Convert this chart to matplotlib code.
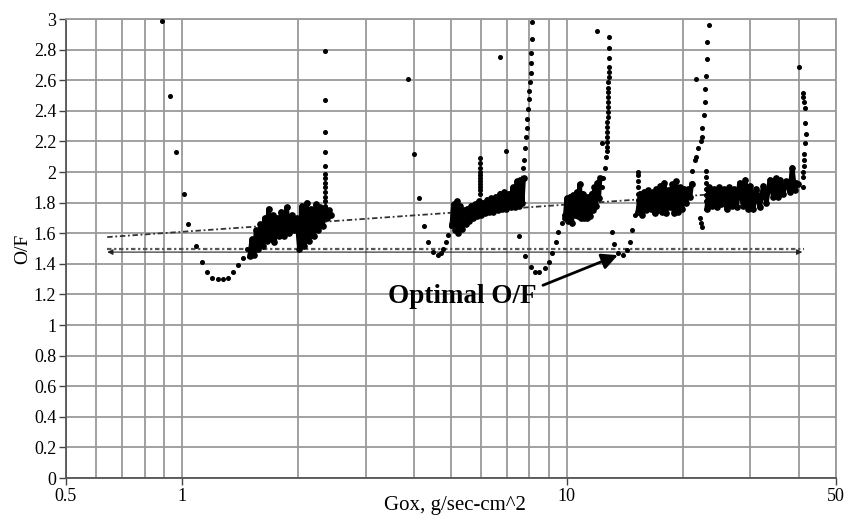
import numpy as np
import matplotlib
matplotlib.use("Agg")
import matplotlib.pyplot as plt
from matplotlib.ticker import FuncFormatter

plt.rcParams['font.family'] = ['Liberation Serif', 'DejaVu Serif']

# ---- data (Gox in g/sec-cm^2, O/F) ----

# isolated dots: start-up transients, troughs and stray points
dots_x = [0.89, 0.93, 0.965, 1.01, 1.04, 1.09, 1.13, 1.16, 1.20, 1.24, 1.28,
          1.32, 1.36, 1.40, 1.44, 1.48,
          3.87, 4.0, 4.13, 4.25, 4.36, 4.49, 4.63, 4.70, 4.77, 4.85, 4.91, 5.0,
          6.70, 6.95, 7.51,
          7.78, 8.07, 8.26, 8.47, 8.77, 8.98, 9.15, 9.37, 9.50, 9.70, 9.85,
          11.97, 12.33,
          13.1, 13.3, 13.6, 14.0, 14.3, 14.6, 14.76, 15.0,
          21.65, 22.2, 22.3, 22.4]
dots_y = [2.99, 2.50, 2.13, 1.86, 1.66, 1.52, 1.41, 1.35, 1.31, 1.30, 1.30,
          1.31, 1.35, 1.39, 1.44, 1.50,
          2.61, 2.12, 1.83, 1.65, 1.54, 1.48, 1.46, 1.47, 1.50, 1.54, 1.59, 1.65,
          2.75, 2.14, 1.58,
          1.45, 1.38, 1.35, 1.35, 1.37, 1.41, 1.47, 1.54, 1.61, 1.67, 1.72,
          2.92, 2.19,
          1.61, 1.53, 1.47, 1.46, 1.49, 1.54, 1.62, 1.72,
          2.61, 1.70, 1.67, 1.64]

# near-vertical runs of dots (O/F climbing at the end of each burn)
spike_x = [2.35] * 13 + [5.95] * 11 + \
          [7.69, 7.74, 7.78, 7.83, 7.88, 7.88, 7.92, 7.97, 7.97, 8.02, 8.07, 8.07,
           8.07, 8.12, 8.12] + \
          [12.33, 12.41, 12.56, 12.64, 12.70, 12.70, 12.70, 12.72, 12.72, 12.74,
           12.74, 12.76, 12.76, 12.78, 12.78, 12.80, 12.80, 12.82, 12.82, 12.84,
           12.84, 12.86, 12.86, 12.86, 12.86] + \
          [15.35] * 6 + \
          [21.1, 21.2, 21.5, 21.7, 21.9, 22.3, 22.4, 22.5, 22.7, 22.8, 22.9, 23.0,
           23.2, 23.2, 23.4] + \
          [22.98] * 6 + \
          [40.1, 41.0, 41.1, 41.3, 41.5, 41.5, 41.7, 41.6, 41.4, 41.4, 41.3, 41.2,
           41.0, 41.1]
spike_y = [1.78, 1.81, 1.84, 1.87, 1.90, 1.93, 1.96, 1.99, 2.04, 2.13, 2.26, 2.47, 2.79] + \
          [1.86, 1.88, 1.90, 1.92, 1.94, 1.96, 1.98, 2.00, 2.03, 2.06, 2.09] + \
          [2.03, 2.08, 2.16, 2.23, 2.29, 2.35, 2.41, 2.48, 2.53, 2.59, 2.65, 2.71,
           2.78, 2.87, 2.98] + \
          [1.90, 1.96, 2.03, 2.10, 2.14, 2.165, 2.198, 2.231, 2.264, 2.296, 2.329,
           2.362, 2.394, 2.427, 2.460, 2.492, 2.525, 2.553, 2.590, 2.623, 2.656,
           2.688, 2.743, 2.808, 2.880] + \
          [1.82, 1.86, 1.90, 1.94, 1.98, 2.00] + \
          [1.93, 2.01, 2.08, 2.10, 2.16, 2.20, 2.23, 2.29, 2.37, 2.46, 2.54, 2.63,
           2.74, 2.85, 2.96] + \
          [2.01, 1.97, 1.93, 1.89, 1.85, 1.81] + \
          [2.69, 2.52, 2.49, 2.46, 2.42, 2.32, 2.25, 2.19, 2.12, 2.08, 2.04, 2.00,
           1.97, 1.90]

# dense noisy bands during each burn
band1_x = [1.50, 1.52, 1.54, 1.56, 1.58, 1.60, 1.62, 1.64, 1.66, 1.68, 1.70, 1.72,
           1.74, 1.77, 1.79, 1.81, 1.84, 1.87, 1.90, 1.93, 1.96, 1.99, 2.02, 2.05,
           2.08, 2.11, 2.14, 2.17, 2.20, 2.23, 2.26, 2.29, 2.32, 2.35, 2.38, 2.41, 2.44]
band1_y = [1.45, 1.56, 1.46, 1.62, 1.50, 1.66, 1.52, 1.70, 1.55, 1.76, 1.56, 1.72,
           1.54, 1.70, 1.58, 1.74, 1.58, 1.77, 1.60, 1.72, 1.62, 1.70, 1.50, 1.78,
           1.52, 1.80, 1.55, 1.76, 1.58, 1.79, 1.62, 1.77, 1.65, 1.76, 1.70, 1.75, 1.72]

band2_x = [5.03, 5.08, 5.13, 5.18, 5.23, 5.28, 5.34, 5.40, 5.46, 5.52, 5.58, 5.64,
           5.70, 5.77, 5.84, 5.91, 5.98, 6.05, 6.13, 6.21, 6.29, 6.37, 6.45, 6.53,
           6.61, 6.70, 6.79, 6.88, 6.97, 7.06, 7.15, 7.24, 7.33, 7.42, 7.50, 7.58,
           7.66, 7.72]
band2_y = [1.66, 1.79, 1.62, 1.81, 1.60, 1.78, 1.63, 1.75, 1.66, 1.76, 1.68, 1.78,
           1.70, 1.79, 1.71, 1.81, 1.72, 1.80, 1.73, 1.82, 1.74, 1.83, 1.74, 1.84,
           1.75, 1.86, 1.76, 1.87, 1.76, 1.86, 1.77, 1.90, 1.77, 1.94, 1.78, 1.95,
           1.80, 1.96]

band3_x = [9.90, 10.0, 10.1, 10.2, 10.3, 10.4, 10.5, 10.6, 10.7, 10.8, 10.9, 11.0,
           11.1, 11.2, 11.3, 11.4, 11.5, 11.6, 11.7, 11.8, 11.9, 12.0, 12.1, 12.2]
band3_y = [1.70, 1.83, 1.68, 1.84, 1.67, 1.85, 1.72, 1.87, 1.71, 1.92, 1.70, 1.86,
           1.70, 1.84, 1.70, 1.84, 1.71, 1.86, 1.75, 1.90, 1.78, 1.93, 1.83, 1.96]

band4_x = [15.3, 15.5, 15.7, 15.9, 16.1, 16.3, 16.5, 16.7, 16.9, 17.1, 17.3, 17.5,
           17.7, 17.9, 18.1, 18.3, 18.5, 18.8, 19.0, 19.2, 19.4, 19.7, 19.9, 20.2,
           20.4, 20.7, 20.9, 21.1]
band4_y = [1.74, 1.86, 1.72, 1.87, 1.75, 1.88, 1.76, 1.87, 1.73, 1.89, 1.75, 1.91,
           1.74, 1.93, 1.73, 1.88, 1.77, 1.92, 1.73, 1.94, 1.74, 1.90, 1.76, 1.89,
           1.80, 1.89, 1.84, 1.92]

band5_x = [23.1, 23.4, 23.8, 24.1, 24.5, 24.9, 25.2, 25.6, 26.0, 26.4, 26.8, 27.2,
           27.6, 28.1, 28.7, 29.1, 29.6, 30.0, 30.5, 31.1, 31.7, 32.4, 33.0, 33.7,
           34.4, 34.9, 35.4, 35.9, 36.5, 37.2, 38.0, 38.5, 39.1, 39.5, 39.9]
band5_y = [1.76, 1.90, 1.78, 1.89, 1.77, 1.90, 1.79, 1.89, 1.76, 1.90, 1.78, 1.89,
           1.77, 1.93, 1.78, 1.95, 1.76, 1.91, 1.76, 1.89, 1.77, 1.91, 1.80, 1.95,
           1.84, 1.96, 1.84, 1.95, 1.86, 1.94, 1.87, 2.03, 1.88, 1.93, 1.92]

bands = [(band1_x, band1_y), (band2_x, band2_y), (band3_x, band3_y),
         (band4_x, band4_y), (band5_x, band5_y)]

# trend line and optimal O/F line
trend_x = [0.64, 40.0]
trend_y = [1.575, 1.895]
optimal_x = [0.64, 41.3]
optimal_y = [1.50, 1.50]
arrow_x = [0.64, 40.9]
arrow_y = 1.477

# ---- figure ----
fig = plt.figure(figsize=(8.46, 5.17), dpi=100)
ax = fig.add_axes([0.078, 0.0754, 0.910, 0.8876])

ax.set_xscale('log')
ax.set_xlim(0.5, 50)
ax.set_ylim(0, 3)

grid_c = '#9a9a9a'
ax.set_xticks([0.5, 1, 10, 50])
ax.set_xticklabels(['0.5', '1', '10', '50'])
minor = [0.6, 0.7, 0.8, 0.9, 2, 3, 4, 5, 6, 7, 8, 9, 20, 30, 40]
ax.set_xticks(minor, minor=True)
ax.xaxis.set_minor_formatter(FuncFormatter(lambda v, p: ''))
ax.set_yticks(np.arange(0, 3.01, 0.2))
ax.yaxis.set_major_formatter(FuncFormatter(lambda v, p: '%g' % round(v, 1)))
ax.grid(True, which='both', color=grid_c, lw=1.3)
ax.tick_params(axis='x', which='minor', length=0)
ax.tick_params(axis='both', which='major', length=5, width=1, color='#444444',
               labelsize=13, direction='out', pad=2)
for s in ['top', 'right']:
    ax.spines[s].set_color(grid_c)
    ax.spines[s].set_linewidth(1.3)
for s in ['left', 'bottom']:
    ax.spines[s].set_color('#555555')
    ax.spines[s].set_linewidth(1.3)
ax.set_axisbelow(True)

# reference lines
ax.plot(trend_x, trend_y, color='#333333', lw=1.3, ls=(0, (3, 1.5, 1, 1.5)), zorder=2)
ax.plot(optimal_x, optimal_y, color='#555555', lw=1.6, ls=(0, (2, 1.2, 1, 1.2)), zorder=2)
ax.annotate('', xy=(arrow_x[0], arrow_y), xytext=(arrow_x[1], arrow_y),
            arrowprops=dict(arrowstyle='<|-|>', color='#222222', lw=0.8,
                            mutation_scale=8, shrinkA=0, shrinkB=0), zorder=2)

# measured O/F
for bx, by in bands:
    ax.plot(bx, by, color='black', lw=3.4, solid_joinstyle='round', zorder=3)
    ax.plot(bx, by, 'o', color='black', ms=3.8, zorder=3)
ax.plot(spike_x, spike_y, 'o', color='black', ms=2.6, zorder=4)
ax.plot(dots_x, dots_y, 'o', color='black', ms=2.6, zorder=4)

# annotation
ax.text(3.43, 1.144, 'Optimal O/F', fontsize=19.5, fontweight='bold',
        ha='left', va='baseline', zorder=5)
ax.annotate('', xy=(13.57, 1.457), xytext=(8.67, 1.26),
            arrowprops=dict(arrowstyle='-|>', color='black', lw=2,
                            mutation_scale=24, shrinkA=0, shrinkB=0), zorder=5)

ax.set_xlabel('Gox, g/sec-cm^2', fontsize=15)
ax.xaxis.set_label_coords(0.505, -0.040)
ax.set_ylabel('O/F', fontsize=14, labelpad=2)

fig.savefig('out.png', dpi=100)
